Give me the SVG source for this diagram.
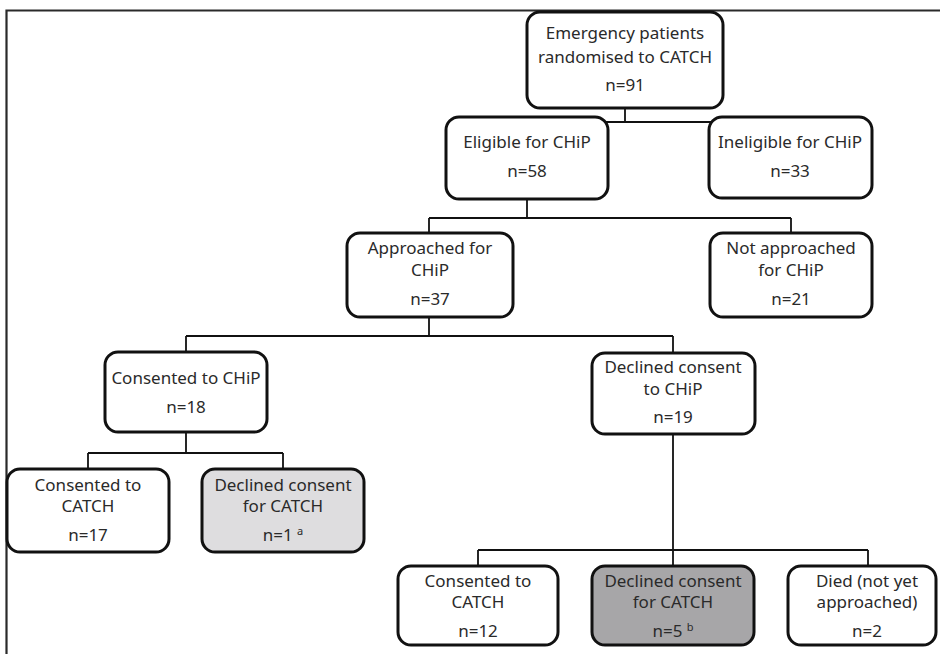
<svg xmlns="http://www.w3.org/2000/svg" width="940" height="654" viewBox="0 0 940 654">
<style>
.box{fill:#fff;stroke:#111;stroke-width:3}
.g1{fill:#dedddf}
.g2{fill:#a7a6a8}
.c{fill:none;stroke:#111;stroke-width:1.8}
text{font-family:"Noto Sans","Open Sans","DejaVu Sans",sans-serif;font-size:17px;fill:#2a2a2a;text-anchor:middle}
.sup{font-size:11px}
</style>
<rect width="940" height="654" fill="#fff"/>
<path d="M6.5 654 V10.5 H940" fill="none" stroke="#2a2a2a" stroke-width="2.2"/>
<g id="connectors">
<path class="c" d="M625 108 V122 M527 122 H790"/>
<path class="c" d="M527 199 V218 M429 218 H791 M429 218 V233 M791 218 V233"/>
<path class="c" d="M429 317 V336 M186 336 H673 M186 336 V352 M673 336 V353"/>
<path class="c" d="M186 432 V453 M88 453 H283 M88 453 V469 M283 453 V469"/>
<path class="c" d="M673 434 V550 M478 550 H868 M478 550 V566 M673 550 V566 M868 550 V566"/>
</g>
<g id="n-emergency">
<rect class="box" x="527" y="12" width="196" height="96" rx="13"/>
<text x="625" y="39">Emergency patients</text>
<text x="625" y="63">randomised to CATCH</text>
<text x="625" y="91">n=91</text>
</g>
<g id="n-eligible">
<rect class="box" x="446" y="117" width="162" height="82" rx="13"/>
<text x="527" y="148">Eligible for CHiP</text>
<text x="527" y="177">n=58</text>
</g>
<g id="n-ineligible">
<rect class="box" x="709" y="117" width="163" height="81" rx="13"/>
<text x="790" y="148">Ineligible for CHiP</text>
<text x="790" y="177">n=33</text>
</g>
<g id="n-approached">
<rect class="box" x="347" y="233" width="166" height="84" rx="13"/>
<text x="430" y="254">Approached for</text>
<text x="430" y="276">CHiP</text>
<text x="430" y="305">n=37</text>
</g>
<g id="n-not-approached">
<rect class="box" x="710" y="233" width="162" height="84" rx="13"/>
<text x="791" y="254">Not approached</text>
<text x="791" y="276">for CHiP</text>
<text x="791" y="305">n=21</text>
</g>
<g id="n-consented-chip">
<rect class="box" x="105" y="352" width="162" height="80" rx="13"/>
<text x="186" y="384">Consented to CHiP</text>
<text x="186" y="413">n=18</text>
</g>
<g id="n-declined-chip">
<rect class="box" x="592" y="353" width="163" height="81" rx="13"/>
<text x="673" y="373">Declined consent</text>
<text x="673" y="395">to CHiP</text>
<text x="673" y="423">n=19</text>
</g>
<g id="n-consented-catch-1">
<rect class="box" x="7" y="469" width="162" height="83" rx="13"/>
<text x="88" y="491">Consented to</text>
<text x="88" y="512">CATCH</text>
<text x="88" y="541">n=17</text>
</g>
<g id="n-declined-catch-1">
<rect class="box g1" x="202" y="469" width="162" height="83" rx="13"/>
<text x="283" y="491">Declined consent</text>
<text x="283" y="512">for CATCH</text>
<text x="283" y="541">n=1 <tspan class="sup" dy="-6">a</tspan></text>
</g>
<g id="n-consented-catch-2">
<rect class="box" x="398" y="566" width="160" height="79" rx="13"/>
<text x="478" y="587">Consented to</text>
<text x="478" y="608">CATCH</text>
<text x="478" y="637">n=12</text>
</g>
<g id="n-declined-catch-2">
<rect class="box g2" x="592" y="566" width="162" height="79" rx="13"/>
<text x="673" y="587">Declined consent</text>
<text x="673" y="608">for CATCH</text>
<text x="673" y="637">n=5 <tspan class="sup" dy="-6">b</tspan></text>
</g>
<g id="n-died">
<rect class="box" x="788" y="566" width="148" height="79" rx="13"/>
<text x="867" y="587">Died (not yet</text>
<text x="867" y="608">approached)</text>
<text x="867" y="637">n=2</text>
</g>
</svg>
